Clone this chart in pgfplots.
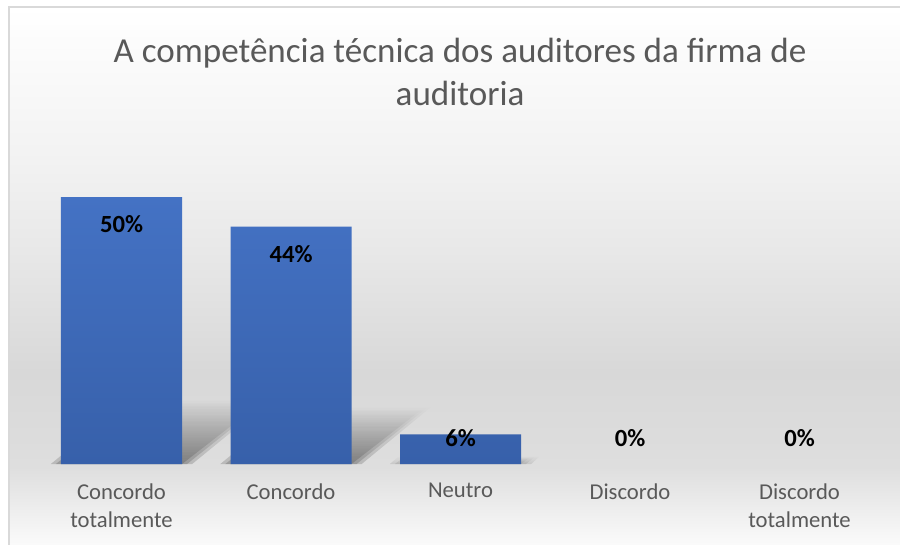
\documentclass[border=0pt]{standalone}
\usepackage{pgfplots}
\pgfplotsset{compat=1.18}
\usepackage{fontspec}
\setmainfont{Carlito}
\usetikzlibrary{fadings}
\definecolor{txt}{HTML}{595959}
\definecolor{bartop}{HTML}{4472C4}
\definecolor{barbot}{HTML}{3760AA}
\definecolor{bgA}{HTML}{FBFBFB}
\definecolor{bgB}{HTML}{DEDEDE}
\definecolor{bgC}{HTML}{D8D8D8}
\definecolor{bgD}{HTML}{E8E8E8}
\definecolor{bgE}{HTML}{F3F3F3}
\definecolor{frame}{HTML}{D9D9D9}
\pgfdeclareverticalshading{bgshade}{100bp}{color(0bp)=(bgA); color(25bp)=(bgA); color(32.4bp)=(bgB); color(41.2bp)=(bgC); color(52.4bp)=(bgD); color(61.7bp)=(bgE); color(75bp)=(white); color(100bp)=(white)}
\begin{document}
\begin{tikzpicture}
\useasboundingbox (-91.125pt,-60pt) rectangle (583.875pt,348pt);
\clip (-91.125pt,-60pt) rectangle (583.875pt,348pt);
\fill[white] (-91.125pt,-60pt) rectangle (583.875pt,348pt);
\shade[shading=bgshade] (-84.375pt,-62pt) rectangle (590pt,342.75pt);
\draw[frame, line width=1.2pt] (-84.375pt,-70pt) -- (-84.375pt,342.75pt) -- (600pt,342.75pt);
\node[text=txt, font=\fontsize{26.3}{32.25}\selectfont, align=center] at (253.9pt,294.4pt)
  {A competência técnica dos auditores da firma de\\auditoria};
\begin{axis}[
  at={(0pt,0pt)}, anchor=origin,
  x=127.125pt, y=4.005pt,
  xmin=-0.5, xmax=4.5, ymin=0, ymax=60,
  axis line style={draw=none},
  ytick=\empty,
  xtick={0,1,2,3,4},
  xticklabels={Concordo\\totalmente, Concordo, Neutro, Discordo, Discordo\\totalmente},
  major tick length=0pt,
  xticklabel style={align=center, text=txt, font=\fontsize{17}{21}\selectfont, anchor=north, yshift=-11pt},
  clip=false,
  every node near coord/.append style={anchor=center, text=black, font=\fontsize{18.5}{22}\selectfont\bfseries,
     yshift={-0.75*min(27,5.34*\rawy-26)*1pt}},
]
% soft perspective shadows
\pgfplotsinvokeforeach{0,0.03,0.06}{
\fill[black, opacity=0.17, path fading=north] (axis cs:{-0.357-#1},0) -- (axis cs:{0.357+#1},0) -- (axis cs:{0.827+#1},{11.6+10*#1}) -- (axis cs:{0.113-#1},{11.6+10*#1}) -- cycle;
\fill[black, opacity=0.17, path fading=north] (axis cs:{0.643-#1},0) -- (axis cs:{1.357+#1},0) -- (axis cs:{1.775+#1},{10.3+10*#1}) -- (axis cs:{1.061-#1},{10.3+10*#1}) -- cycle;
\fill[black, opacity=0.10, path fading=north] (axis cs:{1.643-#1},0) -- (axis cs:{2.357+#1},0) -- (axis cs:{2.41+#1},{1.25+5*#1}) -- (axis cs:{1.70-#1},{1.25+5*#1}) -- cycle;
}
\addplot[ybar, bar width=90.75pt, bar shift=0pt, draw=none, top color=bartop, bottom color=barbot,
  point meta=explicit symbolic,
  visualization depends on={rawy \as \rawy},
  nodes near coords={\pgfplotspointmeta\%},
] coordinates {(0,50) [50] (1,44.44) [44] (2,5.56) [6]};
\addplot[ybar, bar width=90.75pt, bar shift=0pt, draw=none, fill=none,
  point meta=explicit symbolic,
  visualization depends on={rawy \as \rawy},
  nodes near coords={\pgfplotspointmeta\%},
] coordinates {(3,0) [0] (4,0) [0]};
\end{axis}
\end{tikzpicture}
\end{document}
